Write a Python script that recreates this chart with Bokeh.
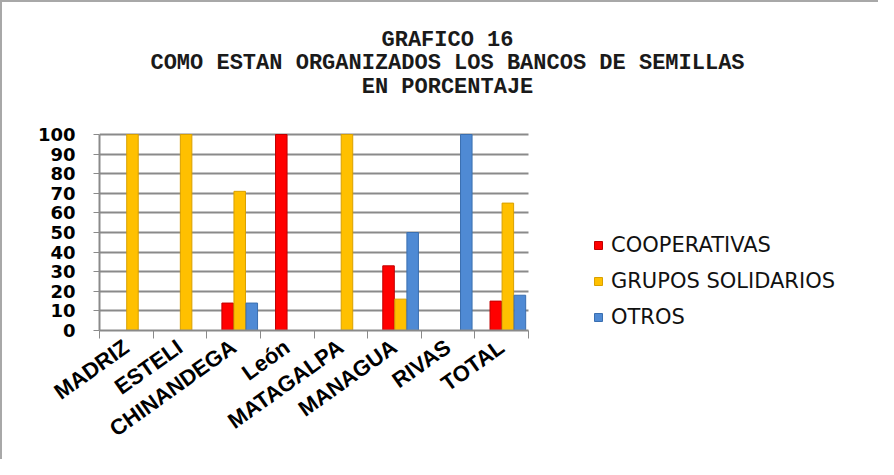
from bokeh.plotting import figure
from bokeh.models import (ColumnDataSource, Legend, LegendItem, Label, Range1d, FixedTicker,
                          BoxAnnotation)
from bokeh.transform import dodge
from bokeh.embed import file_html
from bokeh.resources import INLINE

categories = ["MADRIZ", "ESTELI", "CHINANDEGA", "León", "MATAGALPA", "MANAGUA", "RIVAS", "TOTAL"]
cooperativas = [0, 0, 14, 100, 0, 33, 0, 15]
grupos_solidarios = [100, 100, 71, 0, 100, 16, 0, 65]
otros = [0, 0, 14, 0, 0, 50, 100, 18]
series_names = ["COOPERATIVAS", "GRUPOS SOLIDARIOS", "OTROS"]
y_ticks = list(range(0, 101, 10))
title_lines = ["GRAFICO 16", "COMO ESTAN ORGANIZADOS LOS BANCOS DE SEMILLAS", "EN PORCENTAJE"]

n = len(categories)
centers = [i + 0.5 for i in range(n)]
source = ColumnDataSource(dict(x=centers, cat=categories, coop=cooperativas,
                               grupos=grupos_solidarios, otros=otros))

# layout (pixels)
W, H = 878, 459
LEFT, BOTTOM = 97, 131
FRAME_W, FRAME_H = W - LEFT, H - BOTTOM
PX_PER_CAT = 53.625          # width of one category slot
PX_PER_UNIT = 1.96           # pixels per percentage point

p = figure(width=W, height=H,
           x_range=Range1d(0, FRAME_W / PX_PER_CAT), y_range=Range1d(0, FRAME_H / PX_PER_UNIT),
           output_backend="svg", toolbar_location=None,
           min_border_left=LEFT, min_border_top=0, min_border_bottom=BOTTOM, min_border_right=0)
p.styles = {"border-top": "2px solid #a8a8a8", "border-left": "2px solid #a8a8a8"}
p.outline_line_color = None
p.background_fill_color = "white"
p.border_fill_color = "white"

# y axis
ya = p.yaxis[0]
ya.bounds = (0, 100)
ya.ticker = FixedTicker(ticks=y_ticks)
ya.axis_line_color = "#8a8a8a"
ya.axis_line_width = 2
ya.major_tick_line_color = "#8a8a8a"
ya.major_tick_out = 6
ya.major_tick_in = 0
ya.minor_tick_line_color = None
ya.major_label_text_font = "DejaVu Sans"
ya.major_label_text_font_style = "bold"
ya.major_label_text_font_size = "18px"
ya.major_label_text_color = "#000000"
ya.major_label_standoff = 18

p.ygrid.ticker = FixedTicker(ticks=y_ticks)
p.ygrid.grid_line_color = "#8a8a8a"
p.ygrid.grid_line_width = 2
p.xgrid.grid_line_color = None

# x axis: labels at category centres, tick marks between categories
xa = p.xaxis[0]
xa.bounds = (0, n)
xa.ticker = FixedTicker(ticks=centers, minor_ticks=list(range(n + 1)))
xa.major_label_overrides = {c: name for c, name in zip(centers, categories)}
xa.axis_line_color = "#8a8a8a"
xa.axis_line_width = 2
xa.major_tick_line_color = None
xa.minor_tick_line_color = "#8a8a8a"
xa.minor_tick_out = 8
xa.minor_tick_in = 0
xa.major_label_orientation = 0.62
xa.major_label_text_font = "Liberation Sans"
xa.major_label_text_font_style = "bold"
xa.major_label_text_font_size = "22px"
xa.major_label_text_color = "#000000"
xa.major_label_standoff = 6

# white mask to stop the gridlines at the end of the category area
p.add_layout(BoxAnnotation(left=n, fill_color="white", fill_alpha=1.0, line_color=None,
                           level="glyph"))

colors = ["#ff0000", "#ffc000", "#4f8ad4"]
edges = ["#c00000", "#d9a000", "#3a6fb0"]
cols = ["coop", "grupos", "otros"]
offsets = [-0.11, 0.115, 0.34]
renderers = []
for col, off, c, e in zip(cols, offsets, colors, edges):
    r = p.vbar(x=dodge("x", off), top=col, width=0.215, source=source,
               fill_color=c, line_color=e, line_width=1)
    renderers.append(r)

legend = Legend(items=[LegendItem(label=nm, renderers=[r]) for nm, r in zip(series_names, renderers)],
                location=(494, 1), orientation="vertical",
                label_text_font="DejaVu Sans", label_text_font_size="21px",
                label_text_color="#111111", label_height=25, glyph_height=10, glyph_width=10,
                label_standoff=8, spacing=11, padding=0, margin=0,
                border_line_color=None, background_fill_alpha=0)
p.add_layout(legend, "center")

# title lines (positions in screen px from the frame's bottom-left corner)
for txt, yy in zip(title_lines, [290, 267, 243]):
    p.add_layout(Label(x=348, y=yy, x_units="screen", y_units="screen",
                       text=txt, text_align="center", text_baseline="middle",
                       text_font="Liberation Mono", text_font_style="bold",
                       text_font_size="22px", text_color="#1a1a1a"))

open("out.html", "w").write(file_html(p, INLINE))
